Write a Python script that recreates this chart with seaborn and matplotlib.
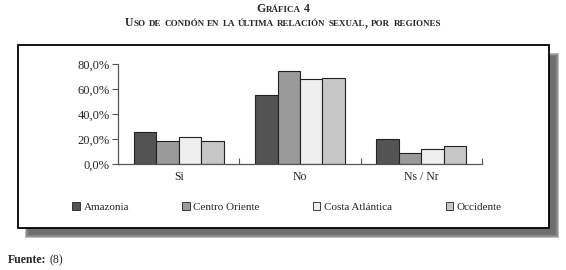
import numpy as np
import pandas as pd
import seaborn as sns
import matplotlib.pyplot as plt
from matplotlib.patches import Rectangle
from matplotlib.ticker import FuncFormatter

# data
categorias = ['Si', 'No', 'Ns / Nr']
regiones = ['Amazonía', 'Centro Oriente', 'Costa Atlántica', 'Occidente']
amazonia = [25.4, 55.5, 20.0]
centro_oriente = [18.4, 74.4, 8.5]
costa_atlantica = [21.6, 67.7, 12.3]
occidente = [18.4, 68.8, 14.4]
colores = ['#535353', '#9a9a9a', '#efefef', '#c6c6c6']

df = pd.DataFrame({
    'cat': categorias * 4,
    'region': np.repeat(regiones, 3),
    'valor': amazonia + centro_oriente + costa_atlantica + occidente,
})

sns.set_style('white')
plt.rcParams['font.family'] = ['Liberation Serif', 'DejaVu Serif']

W, H = 566, 270
fig = plt.figure(figsize=(W / 100, H / 100), dpi=100)


def px(x, y):
    return x / W, 1 - y / H


# frame with soft shadow
for i, a in enumerate([0.12, 0.17, 0.22, 0.28, 0.35]):
    g = 5 - i
    x0, y1 = px(24 + g, 52 + g)
    x1, y0 = px(560 - g, 239 - g)
    fig.patches.append(Rectangle((x0, y0), x1 - x0, y1 - y0, transform=fig.transFigure,
                                 facecolor='#3a3a3a', alpha=a, edgecolor='none', zorder=0))
x0, y1 = px(18, 45)
x1, y0 = px(549, 228)
fig.patches.append(Rectangle((x0, y0), x1 - x0, y1 - y0, transform=fig.transFigure,
                             facecolor='white', edgecolor='black', lw=1.3, zorder=1))

# axes
l, t = px(118, 64)
r, b = px(482, 164)
ax = fig.add_axes([l, b, r - l, t - b])
ax.set_zorder(2)
ax.patch.set_alpha(0)
sns.barplot(data=df, x='cat', y='valor', hue='region', palette=colores, width=0.74,
            edgecolor='#222222', linewidth=0.8, ax=ax, legend=False, saturation=1)
ax.set_xlim(-0.5, 2.5)
ax.set_ylim(0, 80)
ax.set_yticks([0, 20, 40, 60, 80])
ax.yaxis.set_major_formatter(FuncFormatter(lambda v, p: f'{v:.1f}%'.replace('.', ',')))
ax.set_xlabel('')
ax.set_ylabel('')
sns.despine(ax=ax)
for s in ['left', 'bottom']:
    ax.spines[s].set_color('#555555')
    ax.spines[s].set_linewidth(0.9)
ax.tick_params(axis='y', left=True, length=4, width=0.8, color='#555555', labelsize=9, pad=2)
ax.tick_params(axis='x', length=0, labelsize=8.5, pad=5)
ax.set_xticks([0.5, 1.5, 2.5], minor=True)
ax.tick_params(axis='x', which='minor', bottom=True, direction='in', length=4, width=0.8, color='#555555')

# legend
handles = [Rectangle((0, 0), 1, 1, facecolor=c, edgecolor='#222222', lw=0.6) for c in colores]
labels = ['Amazonia', 'Centro Oriente', 'Costa Atlántica', 'Occidente']
fig.legend(handles, labels, ncol=4, loc='center', bbox_to_anchor=px(287, 207), frameon=False,
           fontsize=8, handlelength=0.65, handleheight=0.65, handletextpad=0.35, columnspacing=4.8)


# title in small caps
def small_caps(text, y, big, small):
    runs = []
    for ch in text:
        low = ch.islower()
        if runs and runs[-1][1] == low:
            runs[-1][0] += ch
        else:
            runs.append([ch, low])
    rend = fig.canvas.get_renderer()
    items = []
    x = 0
    for s, low in runs:
        tt = fig.text(0, y, s.upper(), fontsize=small if low else big, fontweight='bold',
                      ha='left', va='baseline', transform=None)
        w = tt.get_window_extent(rend).width
        items.append((tt, x))
        x += w
    start = W / 2 - x / 2
    for tt, off in items:
        tt.set_x(start + off)


small_caps('Gráfica 4', H - 12, 8.5, 6.5)
small_caps('Uso de condón en la última relación sexual, por regiones', H - 26, 8.5, 6.5)

fx, fy = px(8, 263)
ft = fig.text(fx, fy, 'Fuente:', fontsize=8.5, fontweight='bold', va='baseline')
fig.canvas.draw()
fw = ft.get_window_extent().width / W
fig.text(fx + fw + 3 / W, fy, '(8)', fontsize=8.5, va='baseline')

fig.savefig('out.png', dpi=100)
